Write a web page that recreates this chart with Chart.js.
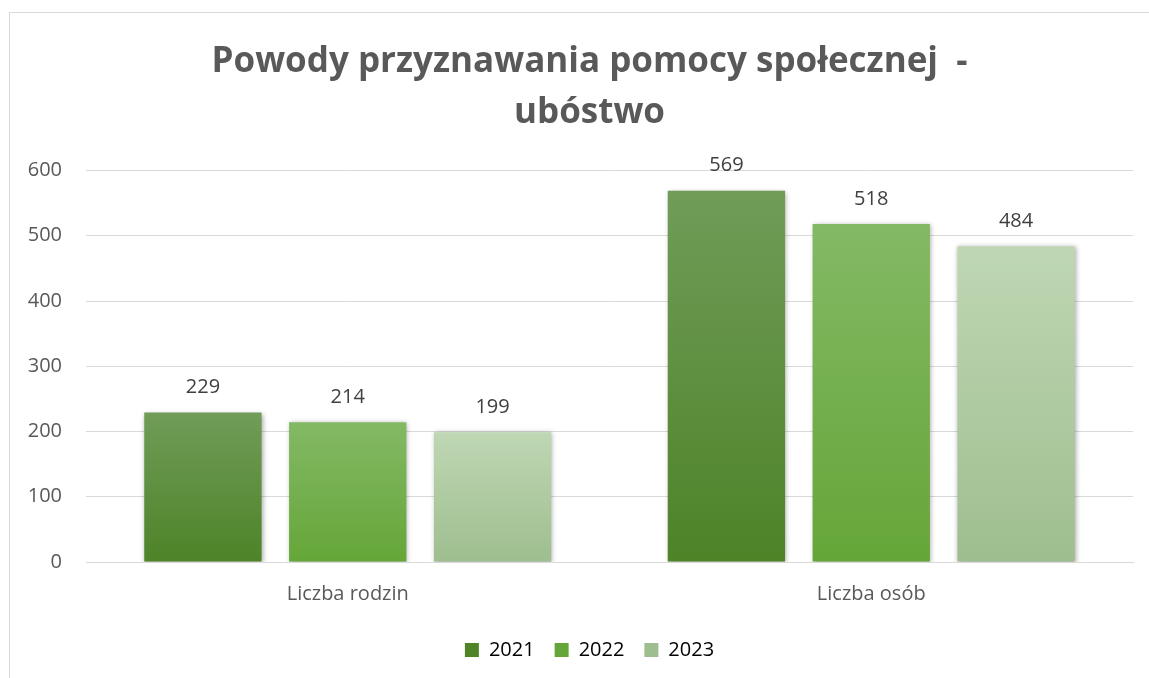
<!DOCTYPE html>
<html>
<head>
<meta charset="utf-8">
<script src="https://cdn.jsdelivr.net/npm/chart.js@4/dist/chart.umd.min.js"></script>
<style>
  html, body { margin: 0; padding: 0; background: #fff; overflow: hidden; }
  #frame { position: absolute; left: 9px; top: 12px; width: 1300px; height: 800px; border: 1px solid #d9d9d9; }
  #wrap { position: absolute; left: 0; top: 0; width: 1149px; height: 678px; }
</style>
</head>
<body>
<div id="frame"></div>
<div id="wrap"><canvas id="canvas" width="1149" height="678"></canvas></div>
<script>
var categories = ['Liczba rodzin', 'Liczba osób']
var years = ['2021', '2022', '2023']
var values2021 = [229, 569]
var values2022 = [214, 518]
var values2023 = [199, 484]

// top / bottom colour of each bar gradient
var gradTop = ['rgb(112,156,88)', 'rgb(131,185,101)', 'rgb(191,215,180)']
var gradBottom = ['rgb(78,131,40)', 'rgb(101,166,56)', 'rgb(158,190,143)']

var fontFamily = '"Open Sans"'

function barGradient(i) {
  return function(context) {
    var chart = context.chart
    var area = chart.chartArea
    if (!area || context.type !== 'data') return gradBottom[i]
    var y = chart.scales.y
    var top = y.getPixelForValue(context.parsed.y)
    var bottom = y.getPixelForValue(0)
    var g = chart.ctx.createLinearGradient(0, top, 0, bottom)
    g.addColorStop(0, gradTop[i])
    g.addColorStop(1, gradBottom[i])
    return g
  }
}

var valueLabels = {
  id: 'valueLabels',
  afterLayout: function(chart) {
    // excel centres title and legend a bit to the right, over the plot
    chart.legend.left = 46
    chart.titleBlock.left = 46
  },
  beforeDatasetDraw: function(chart) {
    var ctx = chart.ctx
    ctx.save()
    ctx.shadowColor = 'rgba(0,0,0,0.35)'
    ctx.shadowBlur = 5
    ctx.shadowOffsetX = 1
    ctx.shadowOffsetY = 1
  },
  afterDatasetDraw: function(chart) {
    chart.ctx.restore()
  },
  afterDatasetsDraw: function(chart) {
    var ctx = chart.ctx
    ctx.save()
    ctx.font = '20px ' + fontFamily
    ctx.fillStyle = '#404040'
    ctx.textAlign = 'center'
    ctx.textBaseline = 'middle'
    chart.data.datasets.forEach(function(ds, i) {
      chart.getDatasetMeta(i).data.forEach(function(bar, j) {
        ctx.fillText(ds.data[j], bar.x, bar.y - 25)
      })
    })
    ctx.restore()
  }
}

var sets = [values2021, values2022, values2023].map(function(v, i) {
  return {
    label: years[i],
    data: v,
    backgroundColor: barGradient(i),
    borderWidth: 0,
    categoryPercentage: 0.83,
    barPercentage: 0.81
  }
})

var chart = new Chart(document.getElementById('canvas'), {
  type: 'bar',
  data: { labels: categories, datasets: sets },
  plugins: [valueLabels],
  options: {
    responsive: false,
    animation: false,
    devicePixelRatio: 1,
    layout: { padding: { left: 0, right: 16, top: 0, bottom: 8 } },
    plugins: {
      title: {
        display: true,
        text: ['Powody przyznawania pomocy społecznej  -', 'ubóstwo'],
        color: '#595959',
        font: { family: fontFamily, size: 35, weight: 'bold', lineHeight: 1.45 },
        padding: { top: 37, bottom: 32 }
      },
      legend: {
        position: 'bottom',
        labels: {
          color: '#595959',
          font: { family: fontFamily, size: 20 },
          boxWidth: 14,
          boxHeight: 14,
          padding: 20,
          generateLabels: function(chart) {
            return chart.data.datasets.map(function(ds, i) {
              return {
                text: ds.label,
                fillStyle: gradBottom[i],
                strokeStyle: 'rgba(0,0,0,0)',
                lineWidth: 0,
                datasetIndex: i,
                hidden: false
              }
            })
          }
        }
      },
      tooltip: { enabled: false }
    },
    scales: {
      x: {
        grid: { display: false },
        border: { color: '#d9d9d9', width: 1 },
        ticks: { color: '#595959', font: { family: fontFamily, size: 20 }, padding: 12 },
        afterFit: function(scale) { scale.height += 2 }
      },
      y: {
        min: 0,
        max: 600,
        ticks: { stepSize: 100, color: '#595959', font: { family: fontFamily, size: 20 }, padding: 24 },
        grid: { color: '#d9d9d9', lineWidth: 1, drawTicks: false },
        border: { display: false },
        afterFit: function(scale) { scale.width = 86 }
      }
    }
  }
})
</script>
</body>
</html>
